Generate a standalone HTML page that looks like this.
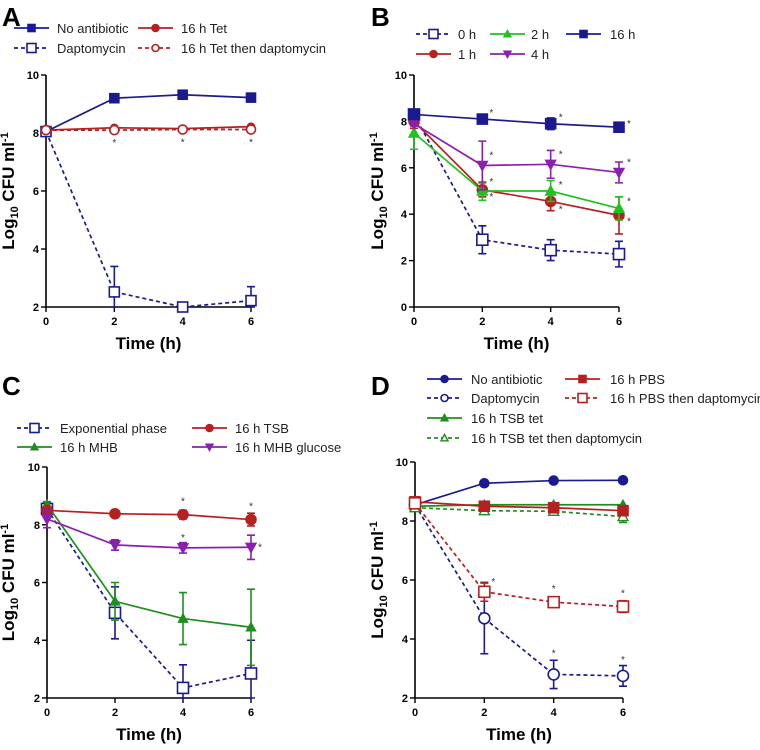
<!DOCTYPE html>
<html><head><meta charset="utf-8"><style>
body{margin:0;background:#fff;font-family:"Liberation Sans",Arial,sans-serif}
svg text{font-family:"Liberation Sans",Arial,sans-serif}
</style></head><body>
<svg id="fig" width="760" height="745" viewBox="0 0 760 745" xmlns="http://www.w3.org/2000/svg"></svg>
<script>
const times=[0,2,4,6];
// Panel A
const aNoAb=[8.05,9.2,9.32,9.22];
const aDapto=[8.05,2.52,2.0,2.22];
const aDaptoErr=[0,0.88,0,0.48];
const aTet=[8.1,8.18,8.15,8.22];
const aTetDapto=[8.1,8.1,8.12,8.12];
// Panel B
const b0h=[8.3,2.9,2.45,2.28];
const b0hErr=[0.1,0.6,0.45,0.55];
const b1h=[8.0,5.05,4.55,3.95];
const b1hErr=[0.3,0.3,0.4,0.8];
const b2h=[7.5,5.0,5.0,4.25];
const b2hErr=[0.7,0.4,0.45,0.5];
const b4h=[7.9,6.1,6.15,5.8];
const b4hErr=[0.1,1.05,0.6,0.45];
const b16h=[8.3,8.1,7.9,7.75];
const b16hErr=[0.1,0.05,0.25,0.1];
// Panel C
const cExp=[8.55,4.95,2.35,2.85];
const cExpErr=[0.1,0.9,0.8,1.15];
const cMHB=[8.7,5.35,4.75,4.45];
const cMHBErr=[0.1,0.65,0.9,1.32];
const cTSB=[8.5,8.38,8.35,8.18];
const cTSBErr=[0.05,0.05,0.15,0.22];
const cGlu=[8.2,7.3,7.2,7.22];
const cGluErr=[0.3,0.18,0.18,0.42];
// Panel D
const dNoAb=[8.55,9.28,9.37,9.38];
const dDapto=[8.55,4.7,2.8,2.75];
const dDaptoErr=[0.05,1.2,0.48,0.35];
const dPBS=[8.65,8.5,8.45,8.35];
const dPBSDapto=[8.6,5.6,5.25,5.1];
const dPBSDaptoErr=[0.05,0.32,0.1,0.2];
const dTet=[8.5,8.55,8.55,8.55];
const dTetDapto=[8.45,8.35,8.33,8.15];
const dTetDaptoErr=[0.05,0.05,0.08,0.2];

const NAVY="#1b1b8f",RED="#b52020",GREEN="#1fc21f",DGREEN="#1e8f1e",PURPLE="#8b1fae";
const NS="http://www.w3.org/2000/svg";
const svg=document.getElementById('fig');
function mk(tag,attrs,parent){const e=document.createElementNS(NS,tag);for(const k in attrs)e.setAttribute(k,attrs[k]);(parent||svg).appendChild(e);return e;}
function marker(g,type,x,y,color,filled,size){
  const s=size||5;const f=filled?color:"#fff";let m;
  if(type==="square")m=mk('rect',{x:x-s,y:y-s,width:2*s,height:2*s,fill:f,stroke:color,'stroke-width':1.6},g);
  else if(type==="circle")m=mk('circle',{cx:x,cy:y,r:s,fill:f,stroke:color,'stroke-width':1.6},g);
  else if(type==="tri")m=mk('polygon',{points:`${x},${y-s} ${x-s},${y+s*0.8} ${x+s},${y+s*0.8}`,fill:f,stroke:color,'stroke-width':1.4},g);
  else m=mk('polygon',{points:`${x},${y+s} ${x-s},${y-s*0.8} ${x+s},${y-s*0.8}`,fill:f,stroke:color,'stroke-width':1.4},g);
  
  
}
function panel(cfg){
  const g=mk('g',{});
  
  
  const sx=t=>cfg.x0+(cfg.x1-cfg.x0)*t/6;
  const sy=v=>cfg.yb+(cfg.yt-cfg.yb)*(v-cfg.ymin)/(cfg.ymax-cfg.ymin);
  const L=mk('text',{x:cfg.lx,y:cfg.ly,'font-size':26,'font-weight':'bold',fill:'#000'},g);L.textContent=cfg.letter;
  
  
  const ax=mk('path',{d:`M${cfg.x0},${cfg.yt} L${cfg.x0},${cfg.yb} L${cfg.x1},${cfg.yb}`,fill:'none',stroke:'#000','stroke-width':1.6},g);
  
  
  for(let v=cfg.ymin;v<=cfg.ymax;v+=2){
    mk('line',{x1:cfg.x0-5,x2:cfg.x0,y1:sy(v),y2:sy(v),stroke:'#000','stroke-width':1.4},g);
    const t=mk('text',{x:cfg.x0-7,y:sy(v)+4,'font-size':11,'font-weight':'bold','text-anchor':'end'},g);t.textContent=v;
    
    
  }
  times.forEach(tt=>{
    mk('line',{x1:sx(tt),x2:sx(tt),y1:cfg.yb,y2:cfg.yb+5,stroke:'#000','stroke-width':1.4},g);
    const t=mk('text',{x:sx(tt),y:cfg.yb+18,'font-size':11,'font-weight':'bold','text-anchor':'middle'},g);t.textContent=tt;
    
    
  });
  const xt=mk('text',{x:(cfg.x0+cfg.x1)/2,y:cfg.yb+42,'font-size':17,'font-weight':'bold','text-anchor':'middle'},g);xt.textContent="Time (h)";
  
  
  const yc=(cfg.yt+cfg.yb)/2;
  const yt=mk('text',{x:0,y:0,'font-size':17,'font-weight':'bold','text-anchor':'middle',transform:`translate(${cfg.ytx},${yc}) rotate(-90)`},g);
  yt.innerHTML='Log<tspan font-size="11" dy="4">10</tspan><tspan dy="-4"> CFU ml</tspan><tspan font-size="11" dy="-6">-1</tspan>';
  
  
  cfg.series.forEach(s=>{
    const sg=mk('g',{},g);
    
    
    if(s.err){s.vals.forEach((v,i)=>{if(!s.err[i])return;const x=sx(times[i]);const lo=Math.max(cfg.ymin,v-s.err[i]),hi=v+s.err[i];
      mk('path',{d:`M${x},${sy(lo)} L${x},${sy(hi)} M${x-4},${sy(lo)} L${x+4},${sy(lo)} M${x-4},${sy(hi)} L${x+4},${sy(hi)}`,stroke:s.color,'stroke-width':1.6,fill:'none'},sg);});}
    const pts=s.vals.map((v,i)=>sx(times[i])+','+sy(v)).join(' ');
    const pl=mk('polyline',{points:pts,fill:'none',stroke:s.color,'stroke-width':1.7,'stroke-dasharray':s.dash?'4,3':'none'},sg);
    
    
    s.vals.forEach((v,i)=>marker(sg,s.marker,sx(times[i]),sy(v),s.color,s.filled,s.size));
    if(s.stars)s.stars.forEach(st=>{const t=mk('text',{x:sx(times[st[0]])+st[1],y:sy(s.vals[st[0]])+st[2],'font-size':10,fill:'#333','text-anchor':'middle'},sg);t.textContent='*';
      
      });
    const lg=mk('g',{},g);
    
    
    const [lx,ly,tx]=s.leg;
    mk('line',{x1:lx,x2:lx+35,y1:ly,y2:ly,stroke:s.color,'stroke-width':1.7,'stroke-dasharray':s.dash?'4,3':'none'},lg);
    marker(lg,s.marker,lx+17.5,ly,s.color,s.filled,s.marker==='square'&&!s.filled?4.5:3.5);
    const tt=mk('text',{x:tx,y:ly+5,'font-size':13,fill:'#222'},lg);tt.textContent=s.label;
  });
}
panel({letter:'A',lx:2,ly:26,x0:46,x1:251,yt:75,yb:307,ymin:2,ymax:10,ytx:14,series:[
 {name:'no-antibiotic',label:'No antibiotic',vals:aNoAb,color:NAVY,marker:'square',filled:true,size:4.5,leg:[14,28,57]},
 {name:'daptomycin',label:'Daptomycin',vals:aDapto,err:aDaptoErr,color:NAVY,marker:'square',filled:false,dash:true,size:5,leg:[14,48,57]},
 {name:'tet',label:'16 h Tet',vals:aTet,color:RED,marker:'circle',filled:true,size:3.5,leg:[138,28,181]},
 {name:'tet-dapto',label:'16 h Tet then daptomycin',vals:aTetDapto,color:RED,marker:'circle',filled:false,dash:true,size:4.5,leg:[138,48,181],stars:[[1,0,16],[2,0,16],[3,0,16]]}
]});
panel({letter:'B',lx:371,ly:26,x0:414,x1:619,yt:75,yb:307,ymin:0,ymax:10,ytx:383,series:[
 {name:'0h',label:'0 h',vals:b0h,err:b0hErr,color:NAVY,marker:'square',filled:false,dash:true,size:5.5,leg:[416,34,458]},
 {name:'1h',label:'1 h',vals:b1h,err:b1hErr,color:RED,marker:'circle',filled:true,size:5,leg:[416,54,458],stars:[[1,9,10],[2,10,11],[3,10,9]]},
 {name:'2h',label:'2 h',vals:b2h,err:b2hErr,color:GREEN,marker:'tri',filled:true,size:5,leg:[490,34,531],stars:[[1,9,-6],[2,10,-3],[3,10,-4]]},
 {name:'4h',label:'4 h',vals:b4h,err:b4hErr,color:PURPLE,marker:'down',filled:true,size:5,leg:[490,54,531],stars:[[1,9,-7],[2,10,-7],[3,10,-7]]},
 {name:'16h',label:'16 h',vals:b16h,color:NAVY,marker:'square',filled:true,size:5,err:b16hErr,leg:[566,34,610],stars:[[1,9,-3],[2,10,-3],[3,10,0]]}
]});
panel({letter:'C',lx:2,ly:395,x0:47,x1:251,yt:467,yb:698,ymin:2,ymax:10,ytx:14,series:[
 {name:'exponential',label:'Exponential phase',vals:cExp,err:cExpErr,color:NAVY,marker:'square',filled:false,dash:true,size:5.5,leg:[17,428,60]},
 {name:'mhb',label:'16 h MHB',vals:cMHB,err:cMHBErr,color:DGREEN,marker:'tri',filled:true,size:4.5,leg:[17,447,60]},
 {name:'tsb',label:'16 h TSB',vals:cTSB,err:cTSBErr,color:RED,marker:'circle',filled:true,size:5,leg:[192,428,235],stars:[[2,0,-10],[3,0,-10]]},
 {name:'mhb-glucose',label:'16 h MHB glucose',vals:cGlu,err:cGluErr,color:PURPLE,marker:'down',filled:true,size:5,leg:[192,447,235],stars:[[2,0,-7],[3,9,3]]}
]});
panel({letter:'D',lx:371,ly:395,x0:415,x1:623,yt:462,yb:698,ymin:2,ymax:10,ytx:383,series:[
 {name:'no-antibiotic',label:'No antibiotic',vals:dNoAb,color:NAVY,marker:'circle',filled:true,size:4.5,leg:[427,379,471]},
 {name:'daptomycin',label:'Daptomycin',vals:dDapto,err:dDaptoErr,color:NAVY,marker:'circle',filled:false,dash:true,size:5.5,leg:[427,398,471],stars:[[2,0,-18],[3,0,-13]]},
 {name:'tsb-tet',label:'16 h TSB tet',vals:dTet,color:DGREEN,marker:'tri',filled:true,size:4.5,leg:[427,418,471]},
 {name:'tsb-tet-dapto',label:'16 h TSB tet then daptomycin',vals:dTetDapto,err:dTetDaptoErr,color:DGREEN,marker:'tri',filled:false,dash:true,size:5,leg:[427,438,471]},
 {name:'pbs',label:'16 h PBS',vals:dPBS,color:RED,marker:'square',filled:true,size:5,leg:[565,379,610]},
 {name:'pbs-dapto',label:'16 h PBS then daptomycin',vals:dPBSDapto,err:dPBSDaptoErr,color:RED,marker:'square',filled:false,dash:true,size:5.5,leg:[565,398,610],stars:[[1,9,-7],[2,0,-10],[3,0,-10]]}
]});
</script>
</body></html>
